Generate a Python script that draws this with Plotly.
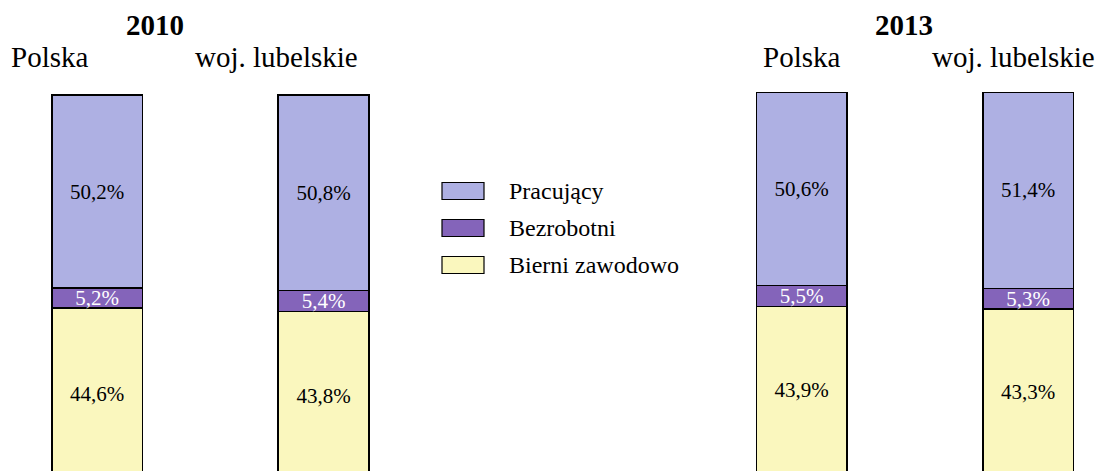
import plotly.graph_objects as go

# dane
years = ["2010", "2013"]
regions = ["Polska", "woj. lubelskie"]
series = ["Pracujący", "Bezrobotni", "Bierni zawodowo"]
pracujacy = {"2010": [50.2, 50.8], "2013": [50.6, 51.4]}
bezrobotni = {"2010": [5.2, 5.4], "2013": [5.5, 5.3]}
bierni = {"2010": [44.6, 43.8], "2013": [43.9, 43.3]}

colors = {"Pracujący": "#AEB0E3", "Bezrobotni": "#8464BA", "Bierni zawodowo": "#FAF7BE"}
text_colors = {"Pracujący": "black", "Bezrobotni": "white", "Bierni zawodowo": "black"}
FONT = "Liberation Serif"
W, H = 1102, 471


def fmt(v):
    return f"{v:.1f}%".replace(".", ",")


fig = go.Figure()

for i, year in enumerate(years):
    xa = "x" if i == 0 else "x2"
    ya = "y" if i == 0 else "y2"
    # od dołu: bierni, bezrobotni, pracujący
    for name, vals in [("Bierni zawodowo", bierni[year]),
                       ("Bezrobotni", bezrobotni[year]),
                       ("Pracujący", pracujacy[year])]:
        fig.add_trace(go.Bar(
            x=regions, y=vals, name=name,
            xaxis=xa, yaxis=ya, width=0.4,
            marker=dict(color=colors[name], line=dict(color="black", width=1.6)),
            text=[fmt(v) for v in vals],
            textposition="inside", insidetextanchor="middle",
            textfont=dict(family=FONT, size=21, color=text_colors[name]),
            showlegend=False, hoverinfo="skip",
        ))

# skale osi (piksele na jednostkę)
cat_px = 226.5
half = W / 2
x1_left = -97 / cat_px
x2_left = -(801.6 - half) / cat_px
y1_px, y1_top = 3.85, 95
y2_px, y2_top = 3.82, 92.3

fig.update_layout(
    barmode="stack",
    width=W, height=H,
    margin=dict(l=0, r=0, t=0, b=0),
    paper_bgcolor="white", plot_bgcolor="white",
    uniformtext=dict(minsize=21, mode="show"),
    xaxis=dict(domain=[0, 0.5], range=[x1_left, x1_left + half / cat_px], visible=False),
    xaxis2=dict(domain=[0.5, 1], range=[x2_left, x2_left + half / cat_px], visible=False),
    yaxis=dict(range=[100 - (H - y1_top) / y1_px, 100 + y1_top / y1_px], visible=False),
    yaxis2=dict(range=[100 - (H - y2_top) / y2_px, 100 + y2_top / y2_px], visible=False,
                anchor="x2"),
)

# nagłówki
headers = [
    ("<b>2010</b>", 155, 25), ("Polska", 49.5, 57), ("woj. lubelskie", 276, 57),
    ("<b>2013</b>", 904, 25), ("Polska", 801, 57), ("woj. lubelskie", 1013, 57),
]
for txt, px, py in headers:
    fig.add_annotation(text=txt, x=px / W, y=1 - py / H, xref="paper", yref="paper",
                       xanchor="center", yanchor="middle", showarrow=False,
                       font=dict(family=FONT, size=29, color="black"))

# legenda rysowana ręcznie
for k, name in enumerate(series):
    cy = 191 + 37 * k
    fig.add_shape(type="rect", xref="paper", yref="paper",
                  x0=442 / W, x1=484 / W, y0=1 - (cy + 8.5) / H, y1=1 - (cy - 8.5) / H,
                  fillcolor=colors[name], line=dict(color="black", width=1.2))
    fig.add_annotation(text=name, x=507 / W, y=1 - cy / H, xref="paper", yref="paper",
                       xanchor="left", yanchor="middle", showarrow=False,
                       font=dict(family=FONT, size=24, color="black"))

fig.write_html("out.html", config={"displayModeBar": False},
               post_script="document.body.style.margin='0';")
